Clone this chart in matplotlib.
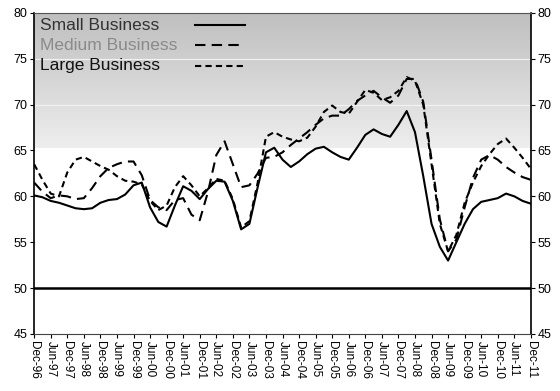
"""Business confidence by firm size, Dec-96 .. Dec-11 (quarterly readings)."""
import numpy as np
import matplotlib
matplotlib.use("Agg")
import matplotlib.pyplot as plt

plt.rcParams["font.family"] = ["Liberation Sans", "DejaVu Sans"]

# semi-annual tick labels, Dec-96 .. Dec-11
LABELS = ["Dec-96", "Jun-97", "Dec-97", "Jun-98", "Dec-98", "Jun-99", "Dec-99",
          "Jun-00", "Dec-00", "Jun-01", "Dec-01", "Jun-02", "Dec-02", "Jun-03",
          "Dec-03", "Jun-04", "Dec-04", "Jun-05", "Dec-05", "Jun-06", "Dec-06",
          "Jun-07", "Dec-07", "Jun-08", "Dec-08", "Jun-09", "Dec-09", "Jun-10",
          "Dec-10", "Jun-11", "Dec-11"]

SERIES = ["Small Business", "Medium Business", "Large Business"]

# quarterly readings (61 points, Dec-96 .. Dec-11)
small = [60.1, 59.9, 59.5, 59.3, 59.0, 58.7, 58.6, 58.7, 59.3, 59.6,
         59.7, 60.2, 61.2, 61.5, 58.8, 57.2, 56.7, 59.0, 61.1, 60.6,
         59.7, 60.8, 61.7, 61.6, 59.5, 56.4, 57.0, 61.0, 64.8, 65.3,
         64.0, 63.2, 63.8, 64.6, 65.2, 65.4, 64.8, 64.3, 64.0, 65.3,
         66.7, 67.3, 66.8, 66.5, 67.8, 69.3, 67.0, 62.2, 57.0, 54.5,
         53.0, 55.0, 57.0, 58.6, 59.4, 59.6, 59.8, 60.3, 60.0, 59.5,
         59.2]
medium = [61.5, 60.5, 59.8, 60.1, 60.0, 59.7, 59.8, 60.9, 62.2, 63.1,
          63.5, 63.8, 63.8, 62.3, 59.6, 58.8, 58.5, 59.6, 59.8, 58.0,
          57.4, 60.5, 64.5, 66.0, 63.5, 61.0, 61.2, 62.5, 64.2, 64.3,
          64.8, 65.6, 66.3, 67.0, 67.8, 68.5, 68.8, 68.8, 69.5, 70.4,
          71.0, 71.5, 70.8, 70.2, 71.0, 72.8, 72.8, 70.3, 64.0, 57.5,
          54.0, 55.3, 58.8, 62.0, 64.0, 64.5, 64.0, 63.2, 62.6, 62.1,
          61.8]
large = [63.5, 61.8, 60.3, 60.0, 62.6, 64.0, 64.3, 63.8, 63.3, 62.9,
         62.2, 61.7, 61.6, 61.3, 59.5, 58.5, 59.0, 61.0, 62.2, 61.2,
         60.0, 60.9, 61.9, 61.7, 59.7, 56.6, 57.3, 61.5, 66.5, 67.0,
         66.5, 66.2, 66.0, 66.4, 67.6, 69.2, 69.9, 69.2, 69.0, 70.3,
         71.6, 71.3, 70.5, 70.8, 71.5, 73.0, 72.6, 70.0, 63.5, 57.0,
         54.0, 55.8, 59.3, 61.5, 63.3, 64.6, 65.7, 66.3, 65.3, 64.2,
         63.0]


def main() -> None:
    q = np.arange(len(small))
    fig = plt.figure(figsize=(5.6, 3.91), dpi=100)
    ax = fig.add_axes([0.061, 0.146, 0.887, 0.821])

    # grey wash in the upper part of the plot, white below ~65
    grad = np.linspace(0.0, 1.0, 200)[:, None]
    cmap = matplotlib.colors.LinearSegmentedColormap.from_list(
        "wash", ["#eeeeee", "#d6d6d6", "#bfbfbf"])
    ax.imshow(grad, extent=(q[0], q[-1], 65.3, 80), origin="lower",
              aspect="auto", cmap=cmap, zorder=0, interpolation="bilinear")
    for yv in (70, 75):
        ax.axhline(yv, color="#f2f2f2", lw=0.8, zorder=0.5)

    ax.axhline(50, color="black", lw=1.8, zorder=1)

    lw = 1.5
    styles = [dict(), dict(dashes=(5, 3)), dict(dashes=(3, 2))]
    for vals, st in zip([small, medium, large], styles):
        ax.plot(q, vals, color="black", lw=lw, zorder=3, **st)

    # legend drawn by hand: text left-aligned, line sample to the right
    text_cols = ["#333333", "#8a8a8a", "#111111"]
    for i, (name, st, col) in enumerate(zip(SERIES, styles, text_cols)):
        yf = 0.962 - i * 0.063
        ax.text(0.012, yf, name, transform=ax.transAxes, fontsize=12.5,
                color=col, ha="left", va="center", zorder=4)
        ax.plot([0.324, 0.425], [yf, yf], transform=ax.transAxes,
                color="black", lw=lw, zorder=4, **st)

    ax.set_xlim(q[0], q[-1])
    ax.set_ylim(45, 80)
    ax.set_yticks(range(45, 81, 5))
    ax.tick_params(axis="y", labelsize=9, length=3, direction="out",
                   right=True, labelright=True, pad=2)
    ax.set_xticks(q[::2])
    ax.set_xticklabels(LABELS, rotation=-90, fontsize=8.5)
    ax.tick_params(axis="x", length=3, direction="out", pad=2)

    for side in ("left", "right"):
        ax.spines[side].set_linewidth(1.2)
    ax.spines["top"].set_color("#555")
    ax.spines["top"].set_linewidth(0.8)
    ax.spines["bottom"].set_color("#444")
    ax.spines["bottom"].set_linewidth(0.8)

    fig.savefig("out.png", dpi=100)
    plt.close(fig)


if __name__ == "__main__":
    main()
